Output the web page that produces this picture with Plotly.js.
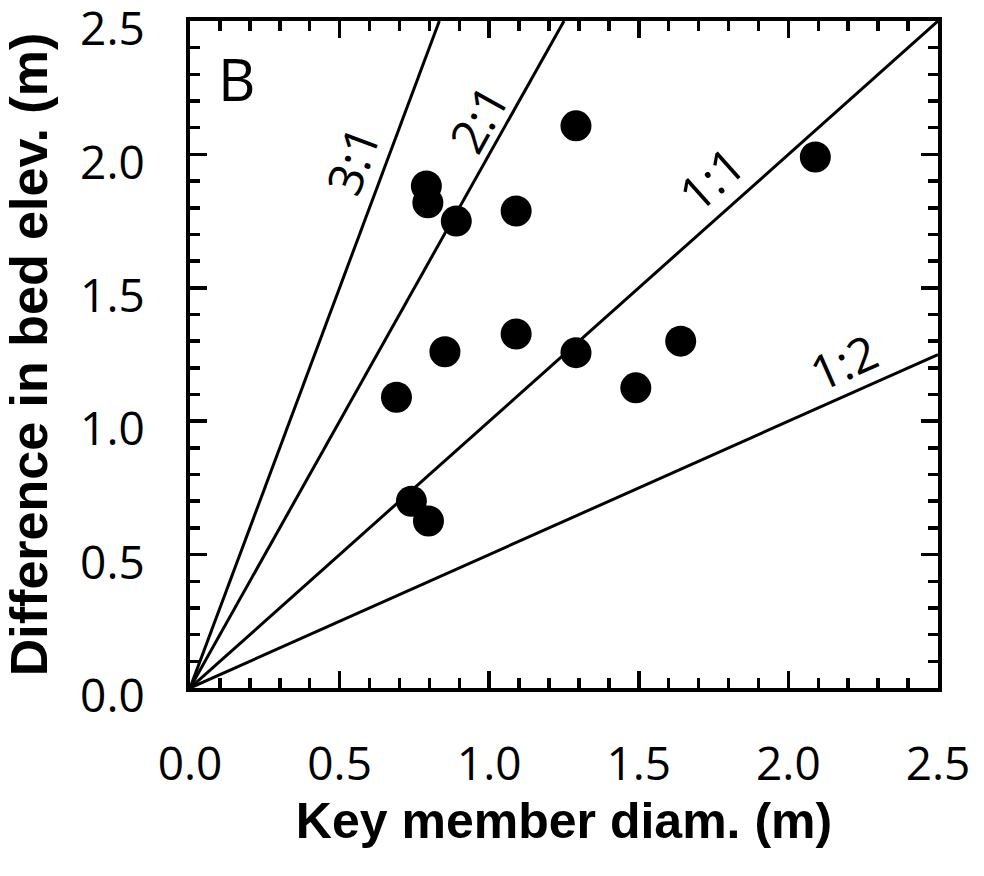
<!DOCTYPE html>
<html>
<head>
<meta charset="utf-8">
<script src="https://cdn.plot.ly/plotly-3.0.1.min.js"></script>
<style>html,body{margin:0;padding:0;background:#fff;}#chart{width:984px;height:876px;}</style>
</head>
<body>
<div id="chart"></div>
<script>
// Observed points
const keyDiam = [0.69, 0.79, 0.795, 0.89, 1.09, 1.29, 2.09, 0.852, 1.09, 1.29, 1.64, 1.49, 0.74, 0.797];
const bedElev = [1.09, 1.882, 1.819, 1.75, 1.788, 2.107, 1.99, 1.26, 1.327, 1.257, 1.30, 1.125, 0.70, 0.626];

// Reference ratio lines (elevation : diameter)
const ratioLabels = ['3:1', '2:1', '1:1', '1:2'];
const ratioEndX = [0.8333, 1.25, 2.5, 2.5];
const ratioEndY = [2.5, 2.5, 2.5, 1.25];
const labelX = [0.541, 0.963, 1.741, 2.186];
const labelY = [1.979, 2.136, 1.911, 1.222];
const labelAngle = [-69.5, -60.7, -41.7, -24.0];

const tickVals = [0, 0.5, 1.0, 1.5, 2.0, 2.5];
const tickText = ['0.0', '0.5', '1.0', '1.5', '2.0', '2.5'];

const traces = [];
for (let i = 0; i < ratioLabels.length; i++) {
  traces.push({
    type: 'scatter', mode: 'lines',
    x: [0, ratioEndX[i]], y: [0, ratioEndY[i]],
    line: {color: '#000', width: 3},
    hoverinfo: 'skip', showlegend: false
  });
}
traces.push({
  type: 'scatter', mode: 'markers',
  x: keyDiam, y: bedElev,
  marker: {color: '#000', size: 31, line: {width: 0}},
  showlegend: false, cliponaxis: false
});

const annotations = ratioLabels.map((t, i) => ({
  x: labelX[i], y: labelY[i], xref: 'x', yref: 'y',
  text: t, showarrow: false, textangle: labelAngle[i],
  font: {family: 'Open Sans, Noto Sans, sans-serif', size: 48, color: '#000'}
}));
annotations.push({
  x: 0.157, y: 2.283, xref: 'x', yref: 'y', text: 'B', showarrow: false,
  font: {family: 'Open Sans, Noto Sans, sans-serif', size: 58, color: '#000'}
});

const axisCommon = {
  range: [0, 2.5], autorange: false,
  showgrid: false, zeroline: false,
  showline: true, linecolor: '#000', linewidth: 4, mirror: 'ticks',
  ticks: 'inside', ticklen: 17, tickwidth: 3.5, tickcolor: '#000',
  tickmode: 'array', tickvals: tickVals, ticktext: tickText,
  ticklabeloverflow: 'allow',
  minor: {ticks: 'inside', ticklen: 10, tickwidth: 3.5, tickcolor: '#000', dtick: 0.1, showgrid: false},
  tickfont: {family: 'Open Sans, Noto Sans, sans-serif', size: 46, color: '#000'}
};

const layout = {
  width: 984, height: 876,
  margin: {l: 190, r: 46, t: 21, b: 188},
  paper_bgcolor: '#fff', plot_bgcolor: '#fff',
  showlegend: false,
  xaxis: Object.assign({}, axisCommon, {
    ticklabelstandoff: 33,
    title: {text: 'Key member diam. (m)', standoff: 12,
      font: {family: 'Liberation Sans, Arial, sans-serif', size: 50, color: '#000', weight: 'bold'}}
  }),
  yaxis: Object.assign({}, axisCommon, {
    ticklabelstandoff: 32,
    ticklabelshift: 8,
    title: {text: 'Difference in bed elev. (m)', standoff: 24,
      font: {family: 'Liberation Sans, Arial, sans-serif', size: 52, color: '#000', weight: 'bold'}}
  }),
  annotations: annotations
};

Plotly.newPlot('chart', traces, layout, {displayModeBar: false, staticPlot: true});
</script>
</body>
</html>
